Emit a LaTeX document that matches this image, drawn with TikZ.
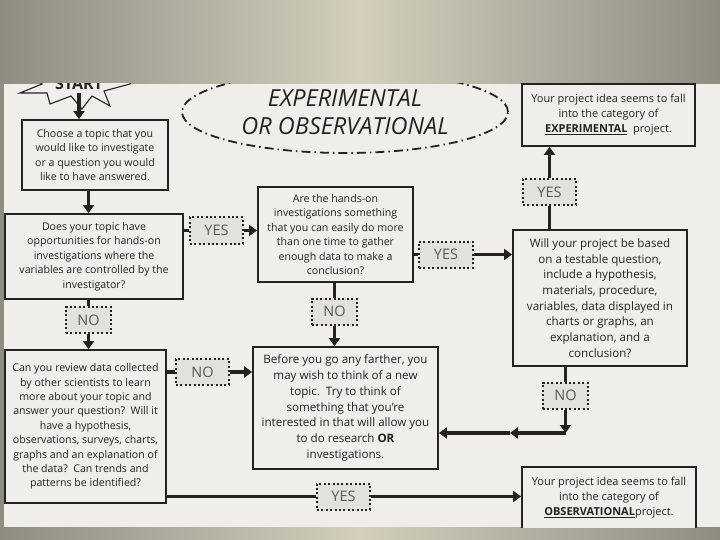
\documentclass[tikz,border=0pt]{standalone}
\usepackage{fontspec}
\setmainfont{Open Sans}
\usetikzlibrary{arrows.meta,shapes.geometric}

\definecolor{paper}{HTML}{EFEEEA}
\definecolor{ink}{HTML}{222222}
\definecolor{tagfill}{HTML}{E2E1DC}
\definecolor{slateedge}{HTML}{8E8D81}
\definecolor{slatemid}{HTML}{D3CFBC}

\begin{document}
\begin{tikzpicture}[x=1pt,y=-1pt,
        box/.style={draw=ink,line width=1.8pt,fill=paper,align=center,text=ink,inner sep=0pt,
            font=\fontsize{10.6}{14.4}\selectfont},
        bigtext/.style={font=\fontsize{11.6}{15.7}\selectfont},
        resulttext/.style={font=\fontsize{11}{15}\selectfont},
        tag/.style={draw=ink,line width=2pt,dash pattern=on 2pt off 2.4pt,fill=tagfill,
            minimum width=53pt,minimum height=26pt,inner sep=0pt,text=ink!75,
            font=\fontsize{14.5}{14.5}\selectfont},
        conn/.style={draw=ink,line width=3.2pt},
        arr/.style={conn,-{Triangle[width=11pt,length=8pt]}}]
    \useasboundingbox (0,0) rectangle (720,540);

    % slide behind the scan
    \shade[left color=slateedge,right color=slateedge,middle color=slatemid] (0,0) rectangle (720,540);
    \fill[paper] (4,84) rectangle (720,527);

    \begin{scope}
        \clip (4,84) rectangle (720,527);

        % start burst
        \draw[ink,line width=1.1pt,fill=paper] (130,84) -- (104,91) -- (110,106) -- (92,96) -- (82,109)
            -- (71,96) -- (50,104) -- (47,93) -- (20,93) -- (42,84) -- (20,66) -- (60,62) -- (80,40)
            -- (100,62) -- (140,66) -- cycle;
        \node (start) at (79,83.5) [font=\bfseries\fontsize{16}{16}\selectfont,text=ink] {START};

        \node (title) at (345,112) [ellipse,draw=ink,line width=1.8pt,
            dash pattern=on 9pt off 4pt on 1.5pt off 4pt,minimum width=326pt,minimum height=82pt,
            align=center,text=ink,font=\itshape\fontsize{23.5}{28}\selectfont] {EXPERIMENTAL\\OR OBSERVATIONAL};

        % questions
        \node (topic) at (95,155) [box,minimum width=146pt,minimum height=70pt]
            {Choose a topic that you\\would like to investigate\\or a question you would\\like to have answered.};
        \node (handson) at (94,256.5) [box,minimum width=178pt,minimum height=85pt]
            {Does your topic have\\opportunities for hands-on\\investigations where the\\variables are controlled by the\\investigator?};
        \node (repeat) at (335.5,234.5) [box,minimum width=155pt,minimum height=95pt]
            {Are the hands-on\\investigations something\\that you can easily do more\\than one time to gather\\enough data to make a\\conclusion?};
        \node (review) at (85.5,426.5) [box,minimum width=161pt,minimum height=153pt]
            {Can you review data collected\\by other scientists to learn\\more about your topic and\\answer your question?\ \ Will it\\have a hypothesis,\\observations, surveys, charts,\\graphs and an explanation of\\the data?\ \ Can trends and\\patterns be identified?};
        \node (testable) at (600,298) [box,bigtext,minimum width=174pt,minimum height=136pt]
            {Will your project be based\\on a testable question,\\include a hypothesis,\\materials, procedure,\\variables, data displayed in\\charts or graphs, an\\explanation, and a\\conclusion?};
        \node (newtopic) at (345.5,408) [box,bigtext,minimum width=185pt,minimum height=122pt]
            {Before you go any farther, you\\may wish to think of a new\\topic.\ \ Try to think of\\something that you're\\interested in that will allow you\\to do research \textbf{OR}\\investigations.};

        % outcomes
        \node (expt) at (608.5,115) [box,resulttext,minimum width=173pt,minimum height=62pt]
            {Your project idea seems to fall\\into the category of\\\underline{\textbf{EXPERIMENTAL}}\ \ project.};
        \node (obs) at (609,498) [box,resulttext,minimum width=174pt,minimum height=62pt]
            {Your project idea seems to fall\\into the category of\\\underline{\textbf{OBSERVATIONAL}}project.};

        % yes / no tags
        \node (yesa) at (216.5,230.5) [tag] {YES};
        \node (noa) at (88.5,320) [tag,minimum width=45pt] {NO};
        \node (yesb) at (446,254.5) [tag,minimum width=54pt] {YES};
        \node (nob) at (334.5,311.5) [tag,minimum width=45pt] {NO};
        \node (noc) at (202.5,372) [tag] {NO};
        \node (yesc) at (549.5,192) [tag] {YES};
        \node (nod) at (565.5,395.5) [tag,minimum width=45pt] {NO};
        \node (yesd) at (343.5,496.5) [tag] {YES};

        \coordinate (bend) at (565.5,433);
        \coordinate (half) at (510,433);

        % connectors
        \draw[arr] (start.south) -- (start |- topic.north);
        \draw[arr] (topic.south -| noa) -- (handson.north -| noa);
        \draw[conn] (handson.south -| noa) -- (noa.north);
        \draw[arr] (noa.south) -- (review.north -| noa);
        \draw[conn] (handson.east |- yesa) -- (yesa.west);
        \draw[arr] (yesa.east) -- (repeat.west |- yesa);
        \draw[conn] (repeat.east |- yesb) -- (yesb.west);
        \draw[arr] (yesb.east) -- (testable.west |- yesb);
        \draw[conn] (repeat.south -| nob) -- (nob.north);
        \draw[arr] (nob.south) -- (newtopic.north -| nob);
        \draw[conn] (testable.north -| yesc) -- (yesc.south);
        \draw[arr] (yesc.north) -- (expt.south -| yesc);
        \draw[conn] (testable.south -| nod) -- (nod.north);
        \draw[arr] (nod.south) -- (bend);
        \draw[arr] (bend) -- (half);
        \draw[arr] (half) -- (newtopic.east |- half);
        \draw[conn] (review.east |- noc) -- (noc.west);
        \draw[arr] (noc.east) -- (newtopic.west |- noc);
        \draw[conn] (review.east |- yesd) -- (yesd.west);
        \draw[arr] (yesd.east) -- (obs.west |- yesd);
    \end{scope}
\end{tikzpicture}
\end{document}
